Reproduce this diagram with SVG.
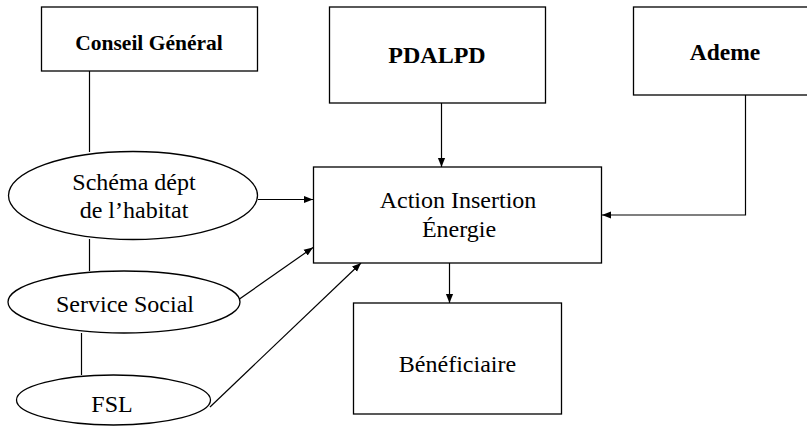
<svg xmlns="http://www.w3.org/2000/svg" width="807" height="427" viewBox="0 0 807 427">
<style>
.box{fill:#fff;stroke:#000;stroke-width:1.3}
.c{fill:none;stroke:#000;stroke-width:1.2}
.b{font-family:"Liberation Serif","Times New Roman",serif;font-weight:bold;text-anchor:middle;fill:#000}
.t{font-family:"Liberation Serif","Times New Roman",serif;font-size:24px;text-anchor:middle;fill:#000}
</style>
<defs>
<marker id="ah" viewBox="0 0 10 10" refX="10" refY="5" markerWidth="9" markerHeight="9" markerUnits="userSpaceOnUse" orient="auto">
<path d="M0,1 L10,5 L0,9 z" fill="#000"/>
</marker>
</defs>
<rect width="807" height="427" fill="#fff"/>
<g id="connectors">
<line class="c" x1="89.5" y1="71" x2="89.5" y2="152"/>
<line class="c" x1="89.5" y1="239" x2="89.5" y2="271"/>
<line class="c" x1="81.5" y1="333" x2="81.5" y2="375"/>
<line class="c" x1="258" y1="199.5" x2="313" y2="199.5" marker-end="url(#ah)"/>
<line class="c" x1="233" y1="303.5" x2="313" y2="247.5" marker-end="url(#ah)"/>
<line class="c" x1="210" y1="407" x2="361" y2="263" marker-end="url(#ah)"/>
<line class="c" x1="441.5" y1="103" x2="441.5" y2="167" marker-end="url(#ah)"/>
<polyline class="c" points="745.5,95 745.5,215 602,215" marker-end="url(#ah)"/>
<line class="c" x1="449.5" y1="263" x2="449.5" y2="303" marker-end="url(#ah)"/>
</g>
<g id="conseil">
<rect class="box" x="41.5" y="7" width="216" height="64"/>
<text class="b" x="149" y="50" font-size="21.5">Conseil Général</text>
</g>
<g id="pdalpd">
<rect class="box" x="329.5" y="7" width="216" height="96"/>
<text class="b" x="437" y="63" font-size="24">PDALPD</text>
</g>
<g id="ademe">
<rect class="box" x="633.5" y="7" width="180" height="88"/>
<text class="b" x="725" y="60" font-size="23.5">Ademe</text>
</g>
<g id="action">
<rect class="box" x="313.5" y="167" width="288" height="96"/>
<text class="t" x="458" y="208">Action Insertion</text>
<text class="t" x="459" y="237">Énergie</text>
</g>
<g id="beneficiaire">
<rect class="box" x="353.5" y="303" width="208" height="111"/>
<text class="t" x="457.5" y="371.5">Bénéficiaire</text>
</g>
<g id="schema">
<ellipse class="box" cx="133" cy="195.5" rx="124.5" ry="44"/>
<text class="t" x="134" y="190">Schéma dépt</text>
<text class="t" x="134" y="218">de l’habitat</text>
</g>
<g id="service">
<ellipse class="box" cx="124" cy="302" rx="116" ry="31"/>
<text class="t" x="125" y="311.5">Service Social</text>
</g>
<g id="fsl">
<ellipse class="box" cx="113.5" cy="400" rx="97" ry="25"/>
<text class="t" x="112" y="411.5">FSL</text>
</g>
</svg>
